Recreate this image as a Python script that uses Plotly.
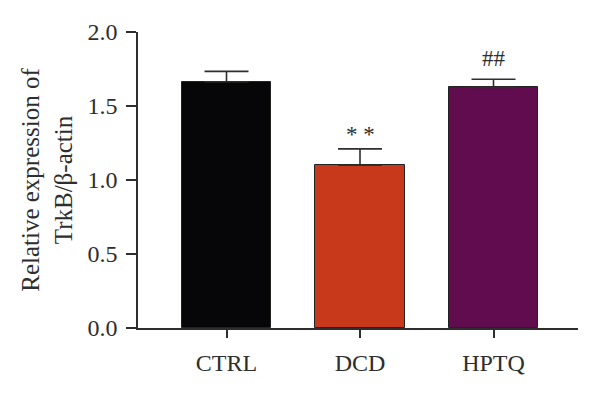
import plotly.graph_objects as go

categories = ["CTRL", "DCD", "HPTQ"]
values = [1.664, 1.10, 1.626]
errors = [0.07, 0.11, 0.055]
colors = ["#060608", "#c8381a", "#600c4e"]
sig_labels = ["", "* *", "##"]
sig_y = [None, 1.31, 1.82]

FONT = "Liberation Serif, Times New Roman, serif"
TXT = "#2e2e2e"

fig = go.Figure()
fig.add_trace(go.Bar(
    x=[0, 1, 2], y=values, width=0.667,
    marker=dict(color=colors, line=dict(color="#222222", width=1)),
    error_y=dict(type="data", array=errors, symmetric=False, arrayminus=[0, 0, 0],
                 color=TXT, thickness=1.6, width=22),
    showlegend=False,
))

for i, (lab, yy) in enumerate(zip(sig_labels, sig_y)):
    if lab:
        fig.add_annotation(x=i, y=yy, text=lab, showarrow=False,
                           font=dict(family=FONT, size=23, color=TXT),
                           yanchor="middle")

# page body has an 8px default margin; compensate so the plot sits where the reference is
fig.update_layout(
    width=592, height=388,
    margin=dict(l=130, r=22, t=24, b=68),
    plot_bgcolor="white", paper_bgcolor="white",
    font=dict(family=FONT, size=24, color=TXT),
    bargap=0,
)
fig.update_xaxes(
    range=[-0.663, 2.633], tickmode="array", tickvals=[0, 1, 2], ticktext=categories,
    showline=True, linecolor=TXT, linewidth=1.5,
    ticks="outside", ticklen=8, tickwidth=1.5, tickcolor=TXT,
    showgrid=False, zeroline=False, ticklabelstandoff=4,
    tickfont=dict(family=FONT, size=24, color=TXT),
)
fig.update_yaxes(
    range=[0, 2.0], tickvals=[0, 0.5, 1.0, 1.5, 2.0], tickformat=".1f",
    showline=True, linecolor=TXT, linewidth=1.5,
    ticks="outside", ticklen=10, tickwidth=1.5, tickcolor=TXT,
    showgrid=False, zeroline=False, ticklabelstandoff=4,
    tickfont=dict(family=FONT, size=24, color=TXT),
    title=dict(text="Relative expression of<br>TrkB/β-actin",
               font=dict(family=FONT, size=25, color=TXT), standoff=8),
)

fig.write_html("out.html")
